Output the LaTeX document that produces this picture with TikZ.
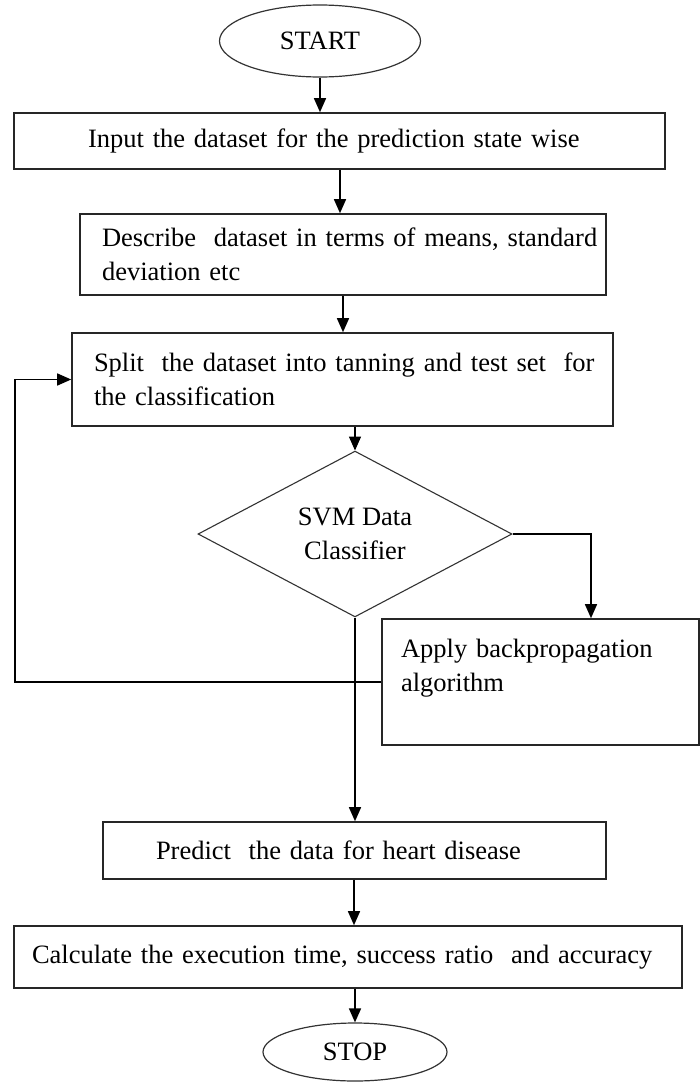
\documentclass[tikz,border=0pt]{standalone}
\usepackage{fontspec}
\setmainfont{Liberation Serif}
\usetikzlibrary{shapes.geometric,arrows.meta}
\begin{document}
\begin{tikzpicture}[x=1pt,y=-1pt,
  txt/.style={font=\fontsize{26.5}{34}\selectfont, text=black},
  box/.style={txt, draw=black!85, line width=1.6pt, rectangle, inner sep=0pt, align=left},
  term/.style={txt, draw=black!80, line width=1.2pt, ellipse, inner sep=0pt},
  dec/.style={txt, draw=black!80, line width=1.1pt, diamond, inner sep=0pt, align=center},
  arr/.style={draw=black, line width=1.5pt, -{Triangle[width=12pt,length=14pt]}}]
\useasboundingbox (0,0) rectangle (700,1082);
\fill[white] (0,0) rectangle (700,1082);

\node[term, minimum width=201pt, minimum height=72pt] (start) at (320,41) {START\hspace{28pt}};

\node[box, minimum width=651pt, minimum height=56pt, text width=503pt] (in1) at (339.5,141)
  {\mbox{Input the dataset for the prediction state wise}};

\node[box, minimum width=526pt, minimum height=81pt, text width=482pt] (desc) at (343,254.5)
  {\mbox{Describe\ \ dataset in terms of means, standard}\\\mbox{deviation etc}};

\node[box, minimum width=541pt, minimum height=93pt, text width=497pt] (split) at (342.5,379.5)
  {\mbox{Split\ \ the dataset into tanning and test set\ \ for}\\\mbox{the classification}};

\node[dec, minimum width=314pt, minimum height=138pt] (svm) at (355,534) {SVM Data\\Classifier};

\node[box, minimum width=317pt, minimum height=126pt, text width=279pt] (apply) at (540.5,682)
  {\mbox{Apply backpropagation}\\\mbox{algorithm}\\\mbox{}};

\node[box, minimum width=503pt, minimum height=57pt, text width=397pt] (pred) at (354.5,850.5)
  {\mbox{Predict\ \ the data for heart disease}};

\node[box, minimum width=668pt, minimum height=62pt, text width=632pt] (calc) at (348,957)
  {\mbox{Calculate the execution time, success ratio\ \ and accuracy}};

\node[term, minimum width=184pt, minimum height=58pt] (stop) at (355,1052) {STOP\hspace{38pt}};

\coordinate (fb) at (15,0);
\coordinate (br) at (591,0);
\coordinate (a1) at (340,0);
\coordinate (a5) at (354,0);

\draw[arr] (start.south) -- (start.south |- in1.north);
\draw[arr] (a1 |- in1.south) -- (a1 |- desc.north);
\draw[arr] (desc.south) -- (desc.south |- split.north);
\draw[arr] (svm.north |- split.south) -- (svm.north);
\draw[arr] (svm.east) -- (svm.east -| br) -- (br |- apply.north);
\draw[arr] (apply.west) -- (apply.west -| fb) |- (split.west);
\draw[arr] (svm.south) -- (svm.south |- pred.north);
\draw[arr] (a5 |- pred.south) -- (a5 |- calc.north);
\draw[arr] (stop.north |- calc.south) -- (stop.north);
\end{tikzpicture}
\end{document}
